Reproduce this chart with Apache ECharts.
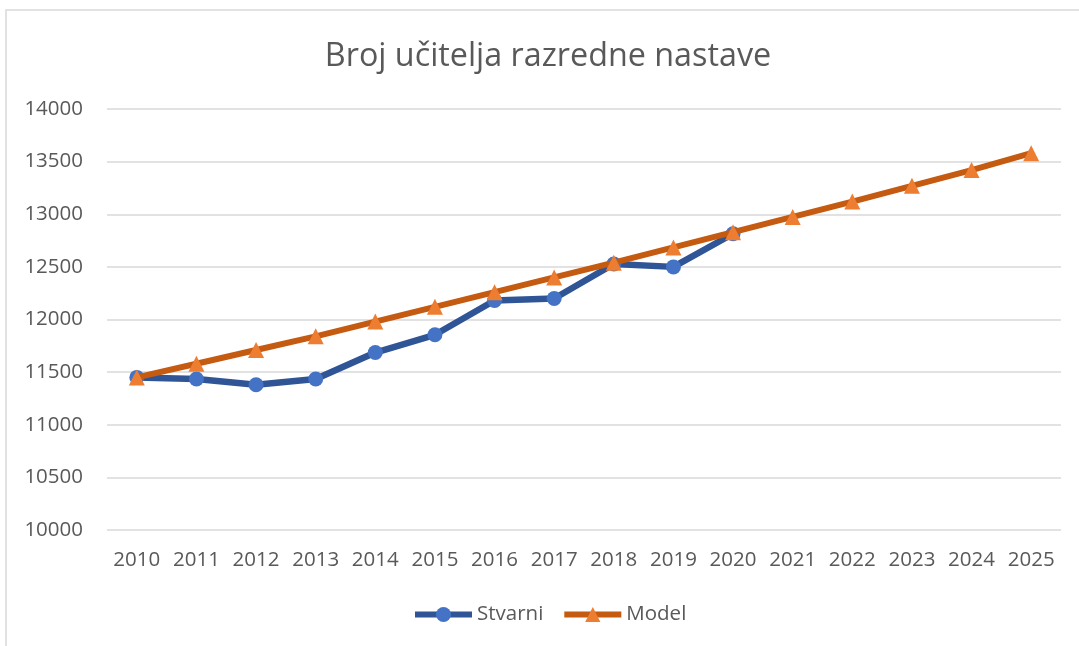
<!DOCTYPE html>
<html>
<head>
<meta charset="utf-8">
<script src="https://cdn.jsdelivr.net/npm/echarts@6/dist/echarts.min.js"></script>
<style>
  html, body { margin: 0; padding: 0; background: #ffffff; }
  #chart { width: 1079px; height: 646px; }
</style>
</head>
<body>
<div id="chart"></div>
<script>
// Number of primary-school teachers: actual counts and the model projection
const years = ['2010', '2011', '2012', '2013', '2014', '2015', '2016', '2017',
               '2018', '2019', '2020', '2021', '2022', '2023', '2024', '2025'];
const stvarni = [11450, 11435, 11380, 11435, 11686, 11855, 12180, 12200,
                 12527, 12500, 12815];
const model = [11450, 11580, 11710, 11840, 11980, 12120, 12260, 12400,
               12540, 12685, 12830, 12975, 13120, 13270, 13420, 13580];

const FONT = '"Open Sans", "DejaVu Sans", sans-serif';
const TEXT = '#595959';

const chart = echarts.init(document.getElementById('chart'), null, { renderer: 'canvas' });

chart.setOption({
  backgroundColor: '#ffffff',
  animation: false,
  graphic: [{
    type: 'rect',
    shape: { x: 6, y: 10, width: 1200, height: 800 },
    style: { fill: 'none', stroke: '#D9D9D9', lineWidth: 1.5 },
    silent: true,
    z: -1
  }],
  title: {
    text: 'Broj učitelja razredne nastave',
    left: 543,
    textAlign: 'center',
    top: 36,
    textStyle: { fontFamily: FONT, fontSize: 32.3, fontWeight: 'normal', color: TEXT }
  },
  legend: {
    bottom: 16,
    left: 407,
    itemWidth: 57,
    itemHeight: 19,
    itemGap: 18,
    lineStyle: { width: 6 },
    textStyle: { fontFamily: FONT, fontSize: 20.5, color: TEXT },
    data: ['Stvarni', 'Model']
  },
  grid: { left: 107, right: 18, top: 109, bottom: 116, containLabel: false },
  xAxis: {
    type: 'category',
    data: years,
    boundaryGap: true,
    axisLine: { show: false },
    axisTick: { show: false },
    axisLabel: { interval: 0, margin: 20, fontFamily: FONT, fontSize: 20.5, color: TEXT }
  },
  yAxis: {
    type: 'value',
    min: 10000,
    max: 14000,
    interval: 500,
    axisLine: { show: false },
    axisTick: { show: false },
    axisLabel: {
      margin: 24, fontFamily: FONT, fontSize: 20.5, color: TEXT,
      formatter: (v) => String(v)
    },
    splitLine: { lineStyle: { color: '#D9D9D9', width: 1.5 } }
  },
  series: [
    {
      name: 'Stvarni',
      type: 'line',
      data: stvarni,
      symbol: 'circle',
      symbolSize: 15,
      lineStyle: { color: '#2F5597', width: 6.5 },
      itemStyle: { color: '#4472C4', borderWidth: 0 },
      z: 2
    },
    {
      name: 'Model',
      type: 'line',
      data: model,
      symbol: 'triangle',
      symbolSize: 16,
      lineStyle: { color: '#C55A11', width: 6 },
      itemStyle: { color: '#ED7D31', borderWidth: 0 },
      z: 3
    }
  ]
});
</script>
</body>
</html>
